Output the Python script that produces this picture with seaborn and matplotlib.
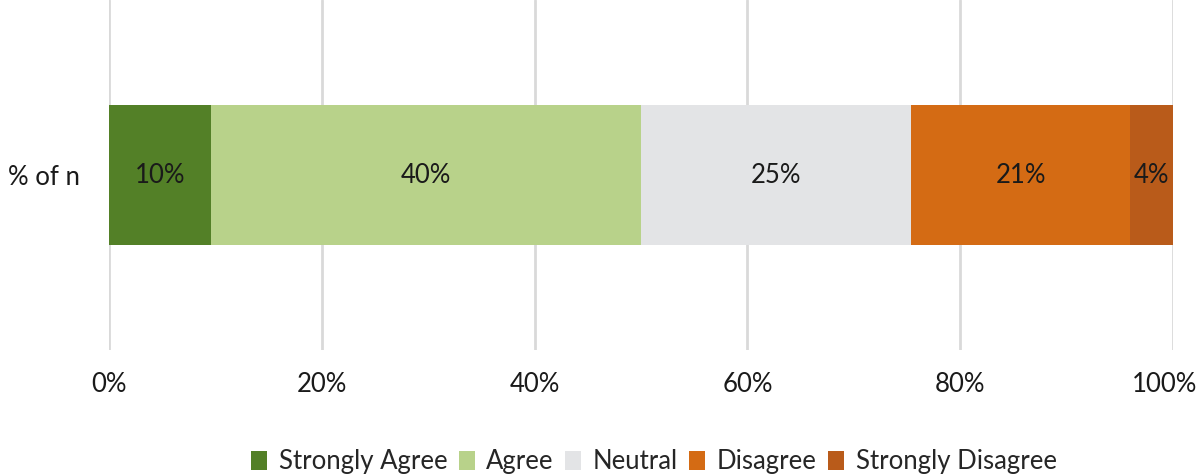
import pandas as pd
import seaborn as sns
import matplotlib.pyplot as plt
from matplotlib.patches import Patch
from matplotlib.transforms import ScaledTranslation

categories = ["Strongly Agree", "Agree", "Neutral", "Disagree", "Strongly Disagree"]
shares = [9.6, 40.4, 25.4, 20.6, 4.0]
labels = ["10%", "40%", "25%", "21%", "4%"]
colors = ["#538027", "#B8D28A", "#E3E4E6", "#D46B14", "#B95B1A"]
row = "% of n"

sns.set_theme(style="white")
plt.rcParams["font.family"] = ["Lato", "DejaVu Sans"]
FS = 18.5

df = pd.DataFrame({"category": categories, "share": shares, "label": labels})
df["end"] = df["share"].cumsum()
df["start"] = df["end"] - df["share"]
df["row"] = row

fig = plt.figure(figsize=(12, 4.75), dpi=100)
ax = fig.add_axes([0.0908, 0.263, 0.8867, 0.737])

# stacked bars: draw cumulative totals from the back to the front
for i in reversed(range(len(df))):
    sub = df.iloc[[i]]
    sns.barplot(data=sub, x="end", y="row", color=colors[i], width=0.4,
                saturation=1, ax=ax, linewidth=0)

for _, r in df.iterrows():
    ax.text((r["start"] + r["end"]) / 2, 0, r["label"], ha="center", va="center",
            fontsize=FS, color="#1a1a1a")

ax.set_xlim(0, 100)
ax.set_ylim(0.5, -0.5)
ax.set_xticks(range(0, 101, 20))
ax.set_xticklabels([f"{t}%" for t in range(0, 101, 20)])
ax.xaxis.grid(True, color="#D9D9D9", linewidth=2)
ax.set_axisbelow(True)
for s in ax.spines.values():
    s.set_visible(False)
ax.tick_params(axis="x", length=0, pad=16, labelsize=FS, labelcolor="#1a1a1a")
ax.tick_params(axis="y", length=0, pad=21, labelsize=FS, labelcolor="#1a1a1a")
ax.set_xlabel("")
ax.set_ylabel("")

# keep the 100% label inside the figure
last = ax.get_xticklabels()[-1]
last.set_transform(last.get_transform() + ScaledTranslation(-6 / 72, 0, fig.dpi_scale_trans))

handles = [Patch(facecolor=c, edgecolor="none") for c in colors]
fig.legend(handles, categories, loc="lower center", bbox_to_anchor=(0.545, -0.047),
           ncol=5, frameon=False, fontsize=FS, handlelength=0.62, handleheight=0.75,
           handletextpad=0.45, columnspacing=0.45)

fig.savefig("out.png", dpi=100)
